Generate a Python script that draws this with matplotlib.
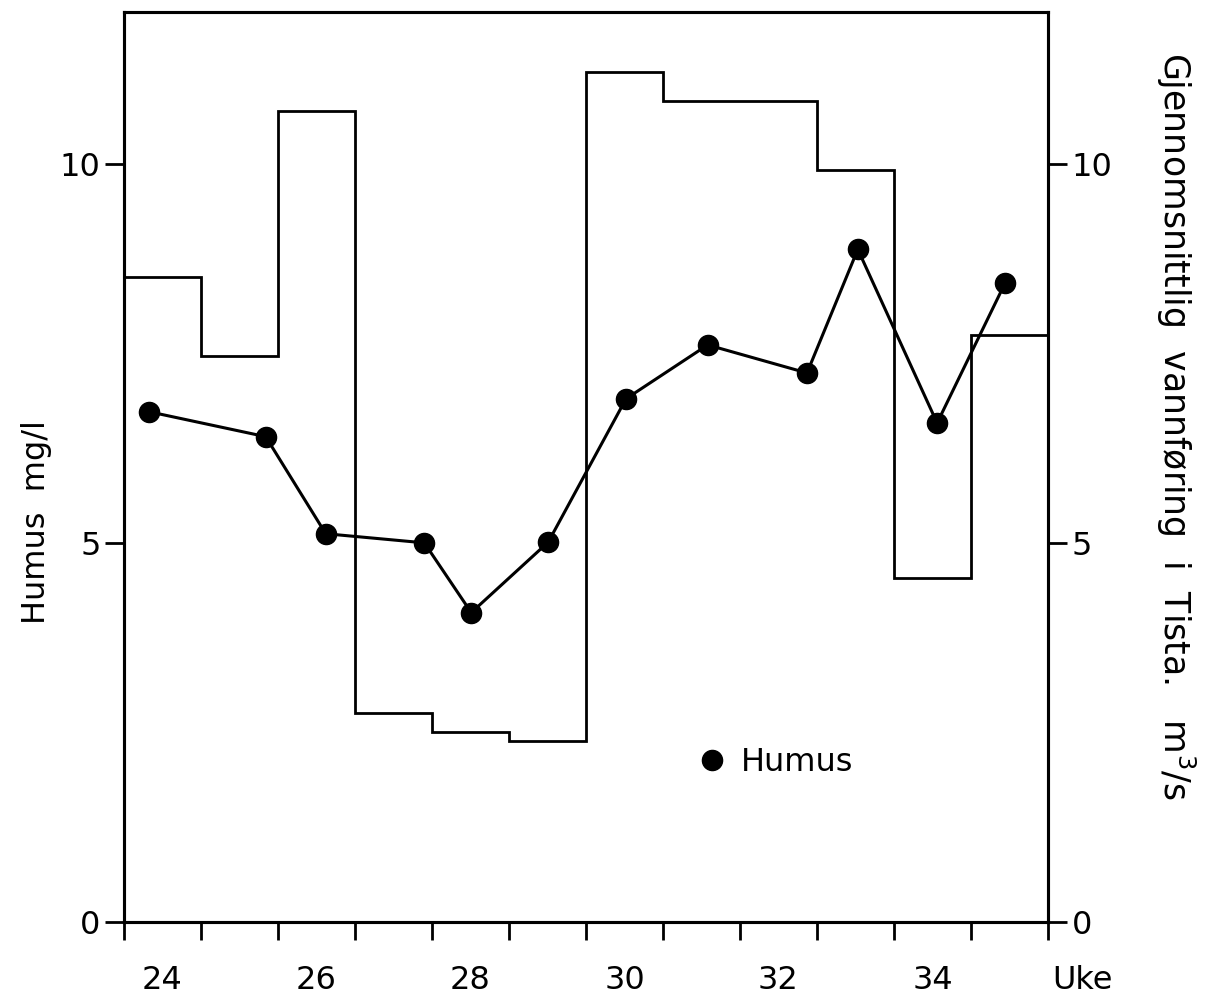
import matplotlib
matplotlib.use("Agg")
import matplotlib.pyplot as plt
import numpy as np
from matplotlib.lines import Line2D

# weekly mean discharge in Tista (m3/s), weeks 24-35
weeks = [24, 25, 26, 27, 28, 29, 30, 31, 32, 33, 34, 35]
discharge = [8.50, 7.47, 10.70, 2.76, 2.51, 2.39, 11.21, 10.82, 10.82, 9.92, 4.54, 7.74]

# humus samples (week position, mg/l)
sample_week = [23.82, 25.34, 26.12, 27.40, 28.01, 29.01, 30.02, 31.08, 32.37, 33.03, 34.06, 34.94]
humus = [6.73, 6.40, 5.12, 5.00, 4.08, 5.01, 6.90, 7.61, 7.24, 8.87, 6.58, 8.42]

week_labels = [24, 26, 28, 30, 32, 34]

plt.rcParams['font.family'] = ['DejaVu Sans']
fs = 23
lw = 2.2

fig = plt.figure(figsize=(12.06, 10.05), dpi=100)
ax = fig.add_axes([124/1206, 1-922/1005, 924/1206, 910/1005])

edges = np.append(np.array(weeks) - 0.5, weeks[-1] + 0.5)
ax.stairs(discharge, edges, baseline=None, color='black', lw=2.0)
ax.plot(sample_week, humus, color='black', lw=lw, marker='o', ms=14.5)

ax.set_xlim(edges[0], edges[-1])
ax.set_ylim(0, 12)

for s in ax.spines.values():
    s.set_linewidth(2.2)

# week boundaries as tick marks, week numbers in between
ax.set_xticks(edges)
ax.set_xticklabels([])
ax.set_xticks(week_labels, minor=True)
ax.set_xticklabels([str(w) for w in week_labels], minor=True, fontsize=fs)
ax.tick_params(axis='x', which='major', direction='out', length=13, width=2)
ax.tick_params(axis='x', which='minor', length=0, pad=31)

ax.set_yticks([0, 5, 10])
ax.set_yticklabels(['0', '5', '10'], fontsize=fs)
ax.tick_params(axis='y', direction='out', length=14, width=2, pad=3)
ax.set_ylabel('Humus  mg/l', fontsize=fs)
ax.yaxis.set_label_coords(-0.078, 0.44)

ax.text(35.95, -0.77, 'Uke', fontsize=fs, ha='center', va='center')

ax2 = ax.twinx()
ax2.set_ylim(0, 12)
ax2.set_yticks([0, 5, 10])
ax2.set_yticklabels(['0', '5', '10'], fontsize=fs)
ax2.tick_params(axis='y', direction='out', length=14, width=2, pad=3)
for s in ax2.spines.values():
    s.set_linewidth(2.2)
ax2.set_ylabel('Gjennomsnittlig  vannføring  i  Tista.   m$^3$/s', fontsize=25,
               rotation=-90, va='bottom')
ax2.yaxis.set_label_coords(1.115, 0.545)

handle = Line2D([], [], color='black', marker='o', ls='', ms=14.5)
ax.legend([handle], ['Humus'], loc='center left', bbox_to_anchor=(0.595, 0.175),
          frameon=False, fontsize=fs, handlelength=0.6, handletextpad=0.6)

fig.savefig('out.png', dpi=100, facecolor='white')
